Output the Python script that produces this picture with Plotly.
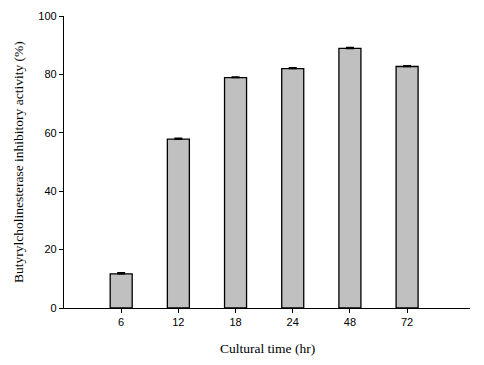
import plotly.graph_objects as go

categories = ["6", "12", "18", "24", "48", "72"]
activity = [11.7, 57.8, 78.9, 82.0, 88.9, 82.7]
errors = [0.4, 0.3, 0.2, 0.3, 0.3, 0.3]
y_ticks = [0, 20, 40, 60, 80, 100]

# page has an 8px body margin, so the figure is offset by 8px
W, H = 476, 357
ML, MR, MT, MB = 56, 14, 8, 57

fig = go.Figure(go.Bar(
    x=list(range(len(categories))),
    y=activity,
    width=0.385,
    marker=dict(color="#c0c0c0", line=dict(color="black", width=1.3)),
    error_y=dict(type="data", array=errors, arrayminus=[0] * len(errors),
                 symmetric=False, visible=True, color="black",
                 thickness=1.5, width=4),
))

title_font = dict(family="Liberation Serif, Times New Roman", size=13.5, color="black")

fig.update_layout(
    width=W, height=H,
    margin=dict(l=ML, r=MR, t=MT, b=MB, autoexpand=False),
    plot_bgcolor="white", paper_bgcolor="white",
    showlegend=False,
    font=dict(family="Liberation Sans, Arial", size=11, color="black"),
)
fig.update_xaxes(
    range=[-1, 6.1], automargin=False,
    tickmode="array", tickvals=list(range(len(categories))), ticktext=categories,
    showline=True, linecolor="black", linewidth=1.3,
    ticks="outside", ticklen=4, tickcolor="black",
    showgrid=False, zeroline=False,
)
fig.update_yaxes(
    range=[0, 100], automargin=False,
    tickmode="array", tickvals=y_ticks,
    showline=True, linecolor="black", linewidth=1.3,
    ticks="outside", ticklen=4, tickcolor="black",
    showgrid=False, zeroline=False,
)
plot_h = H - MT - MB
plot_w = W - ML - MR
fig.layout.annotations = [
    dict(text="Cultural time (hr)", x=0.5, xref="paper",
         y=-40 / plot_h, yref="paper",
         showarrow=False, font=title_font, xanchor="center", yanchor="middle"),
    dict(text="Butyrylcholinesterase inhibitory activity (%)",
         x=-46 / plot_w, xref="paper", y=0.5, yref="paper",
         textangle=-90, showarrow=False, font=title_font,
         xanchor="center", yanchor="middle"),
]

fig.write_html("out.html")
